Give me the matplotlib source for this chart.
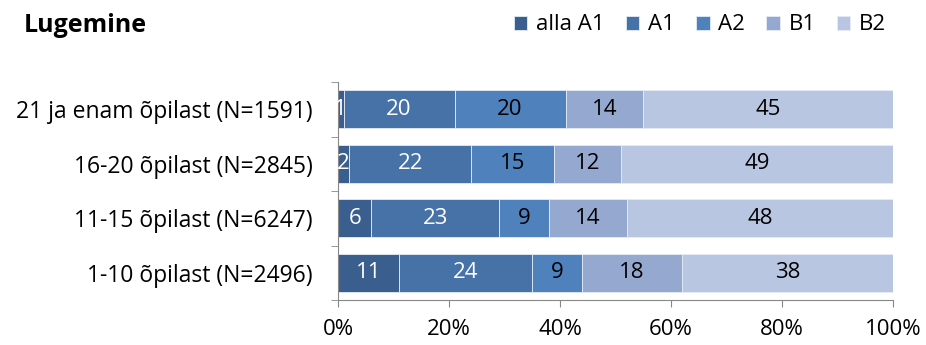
import matplotlib
matplotlib.use("Agg")
import matplotlib.pyplot as plt
import numpy as np

categories = ["21 ja enam õpilast (N=1591)", "16-20 õpilast (N=2845)",
              "11-15 õpilast (N=6247)", "1-10 õpilast (N=2496)"]
series_names = ["alla A1", "A1", "A2", "B1", "B2"]
alla_a1 = [1, 2, 6, 11]
a1 = [20, 22, 23, 24]
a2 = [20, 15, 9, 9]
b1 = [14, 12, 14, 18]
b2 = [45, 49, 48, 38]
colors = ["#3A5F8F", "#4672A8", "#4F81BD", "#95A8D0", "#B9C6E1"]
label_colors = ["white", "white", "black", "black", "black"]
xticks = [0, 20, 40, 60, 80, 100]

plt.rcParams['font.family'] = ['Open Sans', 'DejaVu Sans']
FS = 16

fig = plt.figure(figsize=(9.26, 3.45), dpi=100)
ax = fig.add_axes([338/926, 1-300/345, (893-338)/926, (300-82)/345])

series = [alla_a1, a1, a2, b1, b2]
y = np.arange(len(categories))[::-1]
left = np.zeros(len(categories))
handles = []
for vals, col, lc, name in zip(series, colors, label_colors, series_names):
    vals = np.array(vals, dtype=float)
    h = ax.barh(y, vals, left=left, height=0.7, color=col, edgecolor="#E6EBF4",
                linewidth=0.6, label=name)
    handles.append(h)
    for yi, l, v in zip(y, left, vals):
        ax.text(l + v/2, yi, f"{int(v)}", ha="center", va="center",
                color=lc, fontsize=FS)
    left += vals

ax.set_xlim(0, 100)
ax.set_ylim(-0.5, len(categories)-0.5)
ax.set_xticks(xticks)
ax.set_xticklabels([f"{t}%" for t in xticks], fontsize=FS)
ax.set_yticks(y)
ax.set_yticklabels(categories, fontsize=16.5)
ax.tick_params(axis='y', length=0, pad=18)
ax.set_yticks(np.arange(-0.5, len(categories), 1), minor=True)
ax.tick_params(axis='y', which='minor', length=5, color="#888888", direction='out')
ax.tick_params(axis='x', length=5, color="#888888", pad=9)
for s in ["top", "right"]:
    ax.spines[s].set_visible(False)
for s in ["left", "bottom"]:
    ax.spines[s].set_color("#888888")

fig.text(24/926, 1-26/345, "Lugemine", fontsize=18, fontweight="bold",
         ha="left", va="center")
fig.legend(handles=handles, labels=series_names, loc="center left",
           bbox_to_anchor=(494/926, 1-25/345), ncol=5, frameon=False,
           fontsize=FS, handlelength=0.6, handleheight=0.6, handletextpad=0.4,
           columnspacing=0.95)

fig.savefig("out.png", dpi=100)
